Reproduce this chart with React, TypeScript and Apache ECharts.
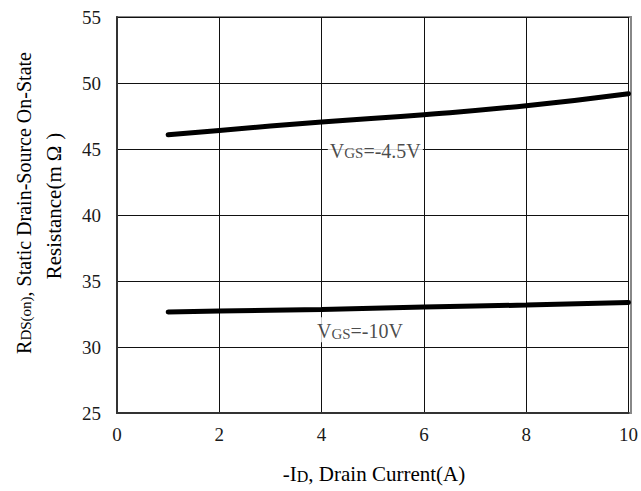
import React, { useEffect, useRef } from "react";
import * as echarts from "echarts";

const current = [1, 2, 4, 6, 8, 10];
const rdsVgs45 = [46.08, 46.41, 47.05, 47.6, 48.28, 49.19];
const rdsVgs10 = [32.65, 32.72, 32.85, 33.03, 33.18, 33.38];
const label45Pos = [5.05, 45];
const label10Pos = [4.75, 31.3];

const FONT = "'Liberation Serif', 'DejaVu Serif', serif";
const TXT = "#1a1a1a";
const mkRich = (big: number, small: number) => ({
  v: { fontSize: big, fontFamily: FONT, color: TXT, verticalAlign: "bottom", lineHeight: big + 3 },
  s: { fontSize: small, fontFamily: FONT, color: TXT, verticalAlign: "bottom", lineHeight: small + 4 },
  o: { fontSize: big, fontFamily: FONT, color: TXT, verticalAlign: "bottom", lineHeight: big + 3, padding: [0, 6, 0, 5] },
});
const richBase = mkRich(20, 15);
const richTitle = mkRich(21, 16);

export default function App() {
  const ref = useRef<HTMLDivElement>(null);
  useEffect(() => {
    document.body.style.margin = "0";
    const chart = echarts.init(ref.current!, null, { renderer: "svg" });
    const toPairs = (ys: number[]) => current.map((x, i) => [x, ys[i]]);
    chart.setOption({
      animation: false,
      backgroundColor: "#fff",
      grid: { left: 117, right: 10, top: 17, bottom: 78, containLabel: false },
      xAxis: {
        type: "value",
        min: 0,
        max: 10,
        interval: 2,
        axisLine: { show: true, lineStyle: { color: "#333", width: 2 } },
        axisTick: { show: false },
        axisLabel: { margin: 12, fontSize: 19, fontFamily: FONT, color: TXT },
        splitLine: { show: true, lineStyle: { color: "#111", width: 1 } },
      },
      yAxis: {
        type: "value",
        min: 25,
        max: 55,
        interval: 5,
        axisLine: { show: true, lineStyle: { color: "#333", width: 2 } },
        axisTick: { show: false },
        axisLabel: { margin: 16, fontSize: 19, fontFamily: FONT, color: TXT },
        splitLine: { show: true, lineStyle: { color: "#111", width: 1 } },
      },
      graphic: [
        {
          type: "rect",
          shape: { x: 117, y: 17, width: 514, height: 396 },
          style: { fill: "none", stroke: "#888", lineWidth: 2 },
          silent: true,
          z: 0,
        },
        {
          type: "text",
          x: 22,
          y: 203,
          rotation: Math.PI / 2,
          style: {
            text: "{v|R}{s|DS(on)}{v|, Static Drain-Source On-State}",
            rich: richBase,
            align: "center",
            verticalAlign: "middle",
          },
        },
        {
          type: "text",
          x: 52,
          y: 206,
          rotation: Math.PI / 2,
          style: {
            text: "{v|Resistance(m}{o|Ω}{v|)}",
            rich: richTitle,
            align: "center",
            verticalAlign: "middle",
          },
        },
        {
          type: "text",
          x: 374,
          y: 472,
          style: {
            text: "{v|-I}{s|D}{v|, Drain Current(A)}",
            rich: richTitle,
            align: "center",
            verticalAlign: "middle",
          },
        },
      ],
      series: [
        {
          type: "line",
          data: toPairs(rdsVgs45),
          smooth: true,
          showSymbol: false,
          lineStyle: { color: "#000", width: 5, cap: "round" },
          z: 3,
        },
        {
          type: "line",
          data: toPairs(rdsVgs10),
          smooth: true,
          showSymbol: false,
          lineStyle: { color: "#000", width: 5, cap: "round" },
          z: 3,
        },
        {
          type: "scatter",
          data: [label45Pos],
          symbolSize: 0,
          z: 4,
          label: {
            show: true,
            position: "inside",
            color: TXT,
            formatter: "{v|V}{s|GS}{v|=-4.5V}",
            rich: richBase,
            backgroundColor: "#fff",
            padding: [1, 2],
          },
        },
        {
          type: "scatter",
          data: [label10Pos],
          symbolSize: 0,
          z: 4,
          label: {
            show: true,
            position: "inside",
            color: TXT,
            formatter: "{v|V}{s|GS}{v|=-10V}",
            rich: richBase,
            backgroundColor: "#fff",
            padding: [1, 2],
          },
        },
      ],
    });
    return () => chart.dispose();
  }, []);
  return <div ref={ref} style={{ width: 641, height: 491 }} />;
}
